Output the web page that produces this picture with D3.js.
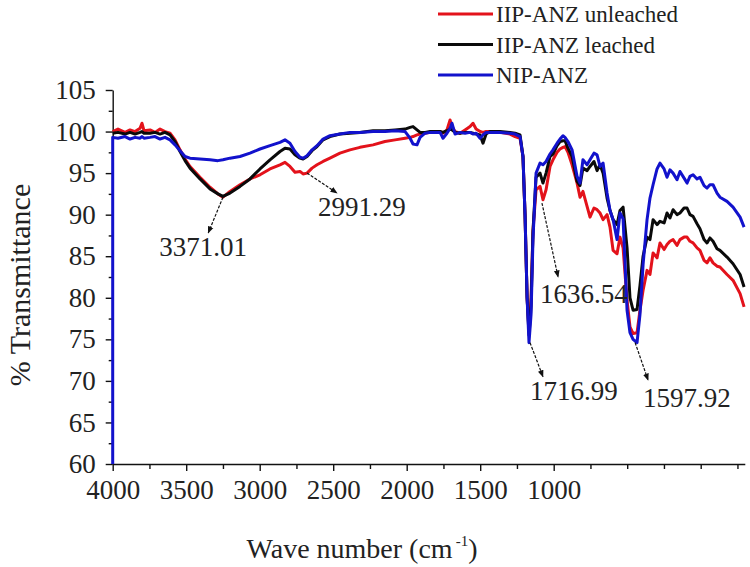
<!DOCTYPE html>
<html lang="en">
<head>
<meta charset="UTF-8">
<title>FTIR spectra</title>
<script src="https://cdn.jsdelivr.net/npm/d3@7.9.0/dist/d3.min.js"></script>
<style>
    body { margin: 0; background: #fff; }
    svg { display: block; }
    svg text { font-family: "Liberation Serif", "Times New Roman", Times, "DejaVu Serif", serif; }
    .axis .domain, .axis line { stroke: #111; stroke-width: 1.4px; }
    .axis text { font-size: 27px; fill: #222; }
    .curve { fill: none; stroke-width: 3px; stroke-linejoin: round; }
    .peak-line { stroke: #111; stroke-width: 1.2px; stroke-dasharray: 3 1.5; }
    .peak-label { font-size: 27px; fill: #222; }
    .legend-text { font-size: 23px; fill: #222; }
    .title { font-size: 28px; fill: #222; }
</style>
</head>
<body>
<svg id="chart" width="750" height="567"></svg>
<script>
// wave numbers (cm-1) shared by the three spectra
const waveNumbers = [4000, 3964, 3916, 3882, 3848, 3814, 3801, 3787, 3746, 3712, 3678, 3644, 3610, 3576, 3542, 3508, 3474,
    3406, 3338, 3284, 3250, 3202, 3134, 3066, 2998, 2930, 2862, 2828, 2794, 2760, 2726, 2705, 2678, 2644, 2610, 2569,
    2522, 2454, 2386, 2318, 2229, 2148, 2079, 2011, 1977, 1957, 1930, 1909, 1875, 1841, 1773, 1753, 1726, 1705, 1692,
    1671, 1637, 1603, 1569, 1549, 1528, 1501, 1481, 1460, 1433, 1365, 1297, 1263, 1229, 1209, 1195, 1181, 1168, 1154,
    1141, 1120, 1093, 1073, 1052, 1025, 1005, 977, 957, 937, 923, 903, 875, 841, 821, 801, 773, 753, 726, 705, 685,
    664, 637, 617, 596, 569, 549, 528, 501, 481, 460, 433, 413, 392, 365, 345, 324, 297, 277, 249, 229, 209, 188, 161,
    141, 113, 93, 73, 52, 25, 5, -23, -43, -63, -84, -111, -131, -179, -220, -268, -295];

const unleached = [100.0, 100.3, 99.9, 100.2, 100.0, 100.4, 101.0, 100.1, 100.2, 99.9, 100.3, 100.0, 99.8, 99.0, 97.8, 96.7, 95.8,
    94.5, 93.3, 92.5, 92.1, 92.8, 93.6, 94.3, 94.8, 95.5, 96.0, 96.3, 95.8, 95.1, 95.2, 94.9, 95.0, 95.6, 96.0, 96.4,
    96.8, 97.4, 97.8, 98.1, 98.4, 98.8, 99.0, 99.2, 99.3, 99.4, 99.6, 99.7, 99.8, 99.9, 100.0, 99.8, 100.2, 101.4, 100.6,
    100.0, 99.8, 100.2, 100.6, 101.0, 100.3, 100.0, 99.9, 100.0, 100.0, 99.9, 99.7, 99.4, 99.2, 97.0, 90.0, 80.0, 76.0, 80.0,
    88.0, 93.0, 93.4, 91.8, 93.0, 95.8, 96.6, 97.5, 97.9, 98.1, 98.2, 97.5, 96.0, 93.8, 92.1, 92.8, 91.0, 89.7, 90.8, 90.6, 90.2,
    89.4, 90.0, 88.5, 85.7, 85.3, 87.3, 86.0, 79.7, 76.5, 75.7, 75.8, 78.5, 80.9, 83.3, 82.8, 85.4, 84.8, 86.6, 85.8, 86.4, 86.8, 87.0, 86.3,
    87.0, 87.3, 87.3, 86.8, 86.6, 86.0, 85.7, 84.5, 84.2, 84.8, 84.2, 83.8, 83.7, 82.8, 82.1, 80.5, 78.9];

const leached = [99.8, 99.9, 99.7, 99.9, 99.7, 99.9, 100.0, 99.8, 99.8, 99.9, 99.7, 99.9, 99.6, 98.8, 97.6, 96.5, 95.6,
    94.3, 93.1, 92.5, 92.2, 92.6, 93.4, 94.3, 95.5, 96.6, 97.6, 98.0, 97.9, 97.2, 96.8, 96.7, 97.0, 97.7, 98.2, 99.0,
    99.4, 99.7, 99.8, 99.9, 100.1, 100.1, 100.2, 100.3, 100.5, 100.6, 100.2, 99.9, 99.9, 100.0, 100.0, 99.9, 100.1, 100.3, 100.2,
    99.9, 99.8, 99.9, 99.9, 99.8, 99.7, 99.6, 98.6, 99.7, 100.0, 100.0, 99.9, 99.8, 99.6, 97.0, 90.0, 80.0, 75.5, 79.0,
    88.0, 94.5, 95.0, 93.8, 95.0, 97.0, 97.3, 98.3, 98.8, 98.9, 98.9, 98.0, 97.0, 94.0, 93.5, 95.6, 95.3, 95.8, 96.4, 95.3, 96.0,
    95.0, 92.0, 90.5, 89.4, 88.8, 90.5, 90.9, 86.0, 80.0, 78.5, 78.6, 81.5, 85.0, 87.3, 87.0, 89.4, 88.8, 89.2, 89.0, 90.2, 89.6, 90.6, 90.0,
    90.2, 90.8, 90.8, 90.0, 89.8, 88.9, 88.3, 87.0, 86.6, 87.2, 86.8, 85.9, 85.7, 84.9, 84.1, 82.8, 81.3];

const nipAnz = [99.3, 99.2, 99.4, 99.1, 99.3, 99.2, 99.4, 99.2, 99.3, 99.4, 99.1, 99.3, 99.0, 98.4, 97.7, 97.0, 96.8,
    96.7, 96.6, 96.5, 96.6, 96.8, 97.0, 97.4, 97.9, 98.3, 98.7, 99.0, 98.6, 97.6, 96.9, 96.8, 97.1, 97.8, 98.3, 99.1,
    99.5, 99.7, 99.9, 99.9, 100.0, 100.0, 100.1, 100.0, 99.2, 98.5, 98.4, 99.3, 99.8, 99.9, 99.9, 99.2, 99.8, 100.4, 101.0,
    99.7, 99.9, 99.8, 99.9, 99.7, 99.8, 99.2, 99.6, 99.9, 99.9, 99.9, 99.8, 99.7, 99.4, 97.0, 90.0, 80.0, 74.6, 78.0,
    87.0, 95.0, 96.2, 96.0, 96.4, 97.3, 97.8, 98.6, 99.1, 99.5, 99.3, 98.8, 97.8, 94.6, 93.8, 96.6, 96.0, 96.6, 97.4, 97.2, 95.8,
    96.2, 92.6, 90.5, 89.4, 87.0, 90.2, 89.5, 78.5, 75.8, 75.0, 74.6, 78.0, 84.0, 89.4, 92.0, 93.6, 95.5, 96.2, 95.5, 94.5, 95.4, 95.0, 94.2,
    95.2, 94.4, 93.8, 94.6, 94.8, 94.3, 94.5, 93.5, 93.2, 93.6, 93.6, 92.6, 92.1, 91.6, 90.9, 89.7, 88.5];

const seriesNames = ["IIP-ANZ unleached", "IIP-ANZ leached", "NIP-ANZ"];
const seriesColors = ["#e3121b", "#0a0a0a", "#1212cc"];

const xTickValues = [4000, 3500, 3000, 2500, 2000, 1500, 1000];
const yTickValues = [60, 65, 70, 75, 80, 85, 90, 95, 100, 105];

// peak call-outs: label, arrow start (on the curve), arrow end, text anchor
const peakLabels = ["3371.01", "2991.29", "1636.54", "1716.99", "1597.92"];
const peakFrom = [[3250, 92.1], [2678, 95.0], [1080, 91.4], [1161, 74.6], [446, 74.6]];
const peakTo = [[3350, 87.8], [2474, 92.6], [970, 82.5], [1073, 70.5], [358, 70.1]];
const peakText = [[3385, 85.0], [2603, 89.8], [1093, 79.4], [1161, 67.7], [392, 66.9]];

const svg = d3.select("#chart");
const margin = {left: 112.7, right: 5.2, top: 90, bottom: 103};
const width = 750, height = 567;

const x = d3.scaleLinear().domain([4000, -300]).range([margin.left, width - margin.right]);
const y = d3.scaleLinear().domain([60, 105]).range([height - margin.bottom, margin.top]);

// --- axes ---
svg.append("g").attr("class", "axis")
    .attr("transform", `translate(0,${y(60)})`)
    .call(d3.axisBottom(x).tickValues(xTickValues).tickSize(7).tickSizeOuter(0).tickPadding(9).tickFormat(d3.format("d")));
svg.append("g").attr("class", "axis")
    .attr("transform", `translate(0,${y(60)})`)
    .call(d3.axisBottom(x).tickValues(d3.range(3750, -300, -250).filter(v => !xTickValues.includes(v))).tickSize(5).tickFormat(""))
    .select(".domain").remove();

svg.append("g").attr("class", "axis")
    .attr("transform", `translate(${x(4000)},0)`)
    .call(d3.axisLeft(y).tickValues(yTickValues).tickSize(7).tickSizeOuter(0).tickPadding(10));
svg.append("g").attr("class", "axis")
    .attr("transform", `translate(${x(4000)},0)`)
    .call(d3.axisLeft(y).tickValues(d3.range(62.5, 105, 5)).tickSize(4).tickFormat(""))
    .select(".domain").remove();

svg.selectAll(".axis").attr("font-family", null);

// --- spectra ---
const line = d3.line()
    .x(d => x(d[0]))
    .y(d => y(d[1]));

const allSeries = [unleached, leached, nipAnz];
allSeries.forEach((vals, i) => {
    const pts = waveNumbers.map((w, j) => [w, vals[j]]);
    if (i === 2) pts.unshift([waveNumbers[0], 60]); // blue trace runs down the y axis
    svg.append("path")
        .attr("class", "curve")
        .attr("d", line(pts))
        .attr("stroke", seriesColors[i]);
});

// --- peak annotations ---
svg.append("defs").append("marker")
    .attr("id", "arrow")
    .attr("viewBox", "0 -5 10 10")
    .attr("refX", 9)
    .attr("refY", 0)
    .attr("markerWidth", 6)
    .attr("markerHeight", 6)
    .attr("orient", "auto")
    .append("path")
    .attr("d", "M0,-4L10,0L0,4Z")
    .attr("fill", "#111");

peakLabels.forEach((lab, i) => {
    svg.append("line")
        .attr("class", "peak-line")
        .attr("x1", x(peakFrom[i][0])).attr("y1", y(peakFrom[i][1]))
        .attr("x2", x(peakTo[i][0])).attr("y2", y(peakTo[i][1]))
        .attr("marker-end", "url(#arrow)");
    svg.append("text")
        .attr("class", "peak-label")
        .attr("x", x(peakText[i][0]))
        .attr("y", y(peakText[i][1]))
        .attr("text-anchor", i === 0 ? "middle" : "start")
        .text(lab);
});

// --- axis titles ---
svg.append("text")
    .attr("class", "title")
    .attr("transform", `translate(30,${(y(60) + y(105)) / 2 + 8}) rotate(-90)`)
    .attr("text-anchor", "middle")
    .style("font-size", "30px")
    .text("% Transmittance");

const xt = svg.append("text")
    .attr("class", "title")
    .attr("x", 362)
    .attr("y", 558)
    .attr("text-anchor", "middle");
xt.append("tspan").text("Wave number (cm");
xt.append("tspan").attr("dx", 3).attr("dy", -12).style("font-size", "15px").text("-1");
xt.append("tspan").attr("dy", 12).text(")");

// --- legend ---
const legend = svg.append("g").attr("transform", "translate(438,14)");
const items = legend.selectAll("g").data(seriesNames).enter().append("g")
    .attr("transform", (d, i) => `translate(0,${i * 30.5})`);
items.append("line")
    .attr("x1", 0).attr("x2", 55)
    .attr("stroke", (d, i) => seriesColors[i])
    .attr("stroke-width", 3);
items.append("text")
    .attr("class", "legend-text")
    .attr("x", 58)
    .attr("y", 8)
    .text(d => d);
</script>
</body>
</html>
